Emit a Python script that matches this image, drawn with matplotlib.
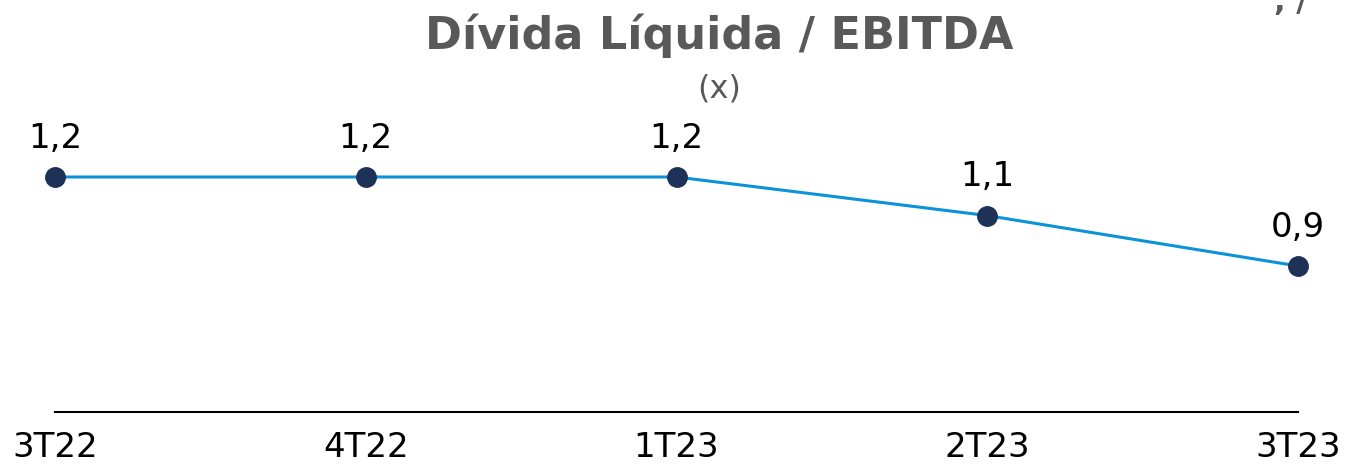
import matplotlib.pyplot as plt

quarters = ['3T22', '4T22', '1T23', '2T23', '3T23']
leverage = [1.20, 1.20, 1.20, 1.07, 0.90]
labels = ['1,2', '1,2', '1,2', '1,1', '0,9']

W, H = 1345, 470
fig = plt.figure(figsize=(W / 100, H / 100), dpi=100)

# axes placed in pixel terms: x from 55 to 1298, bottom spine at y=412
ax = fig.add_axes([55 / W, (H - 412) / H, (1298 - 55) / W, 312 / H])
ax.plot(range(len(quarters)), leverage, color='#0a93d8', lw=2.2, zorder=2,
        marker='o', markersize=14, markerfacecolor='#1d3256',
        markeredgecolor='#1d3256', clip_on=False)

for i, (v, lab) in enumerate(zip(leverage, labels)):
    ax.annotate(lab, (i, v), xytext=(0, 21), textcoords='offset points',
                ha='center', va='baseline', fontsize=24.5, color='black')

px = 0.3 / 89
ax.set_xlim(0, len(quarters) - 1)
ax.set_ylim(1.2 - 235 * px, 1.2 + 77 * px)

for s in ['top', 'right', 'left']:
    ax.spines[s].set_visible(False)
ax.spines['bottom'].set_linewidth(1.5)
ax.spines['bottom'].set_color('black')
ax.set_yticks([])
ax.set_xticks(range(len(quarters)))
ax.set_xticklabels(quarters, fontsize=24.5)
ax.tick_params(axis='x', length=0, pad=14)

fig.text(719 / W, 1 - 49 / H, 'Dívida Líquida / EBITDA', ha='center',
         va='baseline', fontsize=32, fontweight='bold', color='#595959')
fig.text(719 / W, 1 - 97 / H, '(x)', ha='center', va='baseline',
         fontsize=23, color='#595959')
# clipped fragment in the top right corner
fig.text(1274 / W, 1 - 11 / H, ', /', ha='left', va='baseline',
         fontsize=22, fontweight='bold', color='#595959')

fig.savefig('out.png', dpi=100)
